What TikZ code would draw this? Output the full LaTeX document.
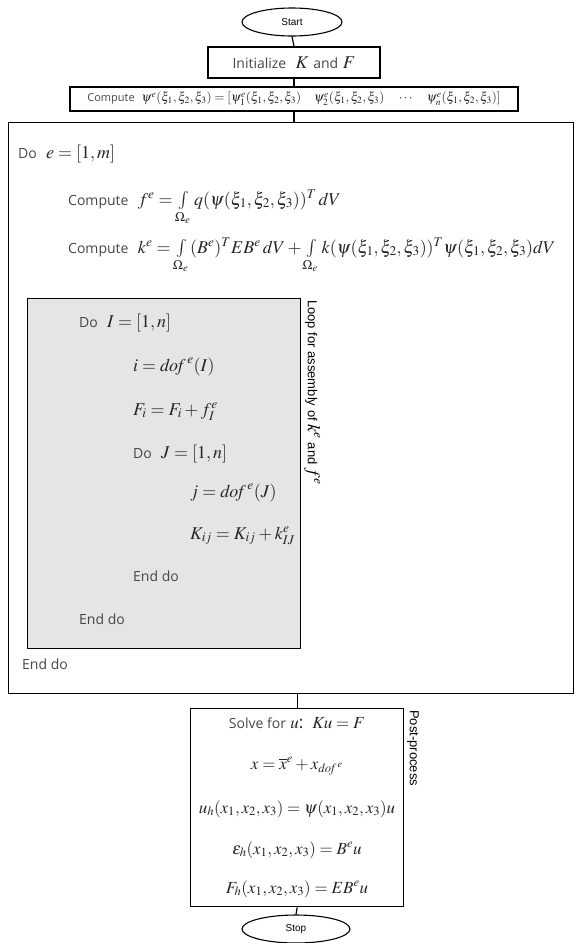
\documentclass[tikz,border=0pt]{standalone}
\usepackage{mathptmx}
\usepackage{fontspec}
\setmainfont{Open Sans}
\newfontfamily\labelfont{Liberation Sans}
\usetikzlibrary{shapes.geometric}
\newcommand\sw[1]{{\fontsize{14}{16}\selectfont\color{black!72}#1}}
\newcommand\swsmall[1]{{\fontsize{11}{13}\selectfont\color{black!72}#1}}
\begin{document}
\begin{tikzpicture}[x=1pt,y=-1pt,
  box/.style={draw, line width=1.4pt, inner sep=0pt},
  txt/.style={inner sep=0pt, anchor=base west, font=\fontsize{18}{20}\selectfont, text=black!85},
  ctxt/.style={inner sep=0pt, anchor=base, font=\fontsize{17}{19}\selectfont, text=black!85},
  oval/.style={draw, ellipse, line width=1.1pt, minimum width=100pt, minimum height=28pt, inner sep=0pt, font=\labelfont\fontsize{10}{12}\selectfont},
  vlabel/.style={inner sep=0pt, rotate=-90, anchor=south west, font=\labelfont\fontsize{13}{15}\selectfont},
  conn/.style={line width=1.2pt}]
\useasboundingbox (0,0) rectangle (575,943);
% boxes
\node[oval] (start) at (292,22) {Start};
\node[box, minimum width=172pt, minimum height=31pt, font=\fontsize{18}{20}\selectfont, text=black!85] (init) at (294,62.5) {\sw{Initialize}\ \ $K$ \sw{and} $F$};
\node[box, line width=1.8pt, minimum width=448pt, minimum height=24pt, font=\fontsize{13}{15}\selectfont, text=black!85] (psi) at (294,99)
  {\swsmall{Compute}\ \ $\psi^e(\xi_1,\xi_2,\xi_3)=[\psi_1^e(\xi_1,\xi_2,\xi_3)\quad\psi_2^e(\xi_1,\xi_2,\xi_3)\quad\cdots\quad\psi_n^e(\xi_1,\xi_2,\xi_3)]$};
\node[box, minimum width=565pt, minimum height=571pt, anchor=north west] (main) at (8,122) {};
\node[box, fill=gray!20, minimum width=273pt, minimum height=350pt, anchor=north west] (loop) at (27,298) {};
\node[box, minimum width=213pt, minimum height=198pt, anchor=north west] (post) at (190,708) {};
\node[oval, minimum width=108pt] (stop) at (296,929) {Stop};
% connectors
\draw[conn] (start.south) -- (init.north);
\draw[conn] (init.south) -- (psi.north);
\draw[conn] (psi.south) -- (psi.south |- main.north);
\draw[conn] (post.north |- main.south) -- (post.north);
\draw[conn] (post.south) -- (stop.north);
% main loop texts
\node[txt] (doe) at (18,158) {\sw{Do}\ \ $e=[1,m]$};
\node[txt] (fe) at (68,205) {\sw{Compute}\ \ $f^e=\int\limits_{\Omega_e}q(\psi(\xi_1,\xi_2,\xi_3))^T\,dV$};
\node[txt] (ke) at (68,253) {\sw{Compute}\ \ $k^e=\int\limits_{\Omega_e}(B^e)^T EB^e\,dV+\int\limits_{\Omega_e}k(\psi(\xi_1,\xi_2,\xi_3))^T\psi(\xi_1,\xi_2,\xi_3)dV$};
\node[txt] (doI) at (79,327) {\sw{Do}\ \ $I=[1,n]$};
\node[txt] (idof) at (133,371) {$i=\mathit{dof}^{\,e}(I)$};
\node[txt] (Fi) at (133,415) {$F_i=F_i+f_I^e$};
\node[txt] (doJ) at (133,458) {\sw{Do}\ \ $J=[1,n]$};
\node[txt] (jdof) at (190,497) {$j=\mathit{dof}^{\,e}(J)$};
\node[txt] (Kij) at (190,539) {$K_{ij}=K_{ij}+k_{IJ}^e$};
\node[txt] (endJ) at (133,581) {\sw{End do}};
\node[txt] (endI) at (79,624) {\sw{End do}};
\node[txt] (ende) at (22,669) {\sw{End do}};
\node[vlabel] (looplbl) at (304,300) {Loop for assembly of {\fontsize{18}{20}\selectfont$k^e$} and {\fontsize{18}{20}\selectfont$f^e$}};
% post-process texts
\node[ctxt] (solve) at (297,728) {\sw{Solve for}\ $u$:\ \ $Ku=F$};
\node[ctxt] (xmap) at (297,769) {$x=\overline{x}^e+x_{\mathit{dof}^{\,e}}$};
\node[ctxt] (uh) at (297,813) {$u_h(x_1,x_2,x_3)=\psi(x_1,x_2,x_3)u$};
\node[ctxt] (eps) at (297,854) {$\varepsilon_h(x_1,x_2,x_3)=B^eu$};
\node[ctxt] (Fh) at (297,893) {$F_h(x_1,x_2,x_3)=EB^eu$};
\node[vlabel] (postlbl) at (407,710) {Post-process};
\end{tikzpicture}
\end{document}
